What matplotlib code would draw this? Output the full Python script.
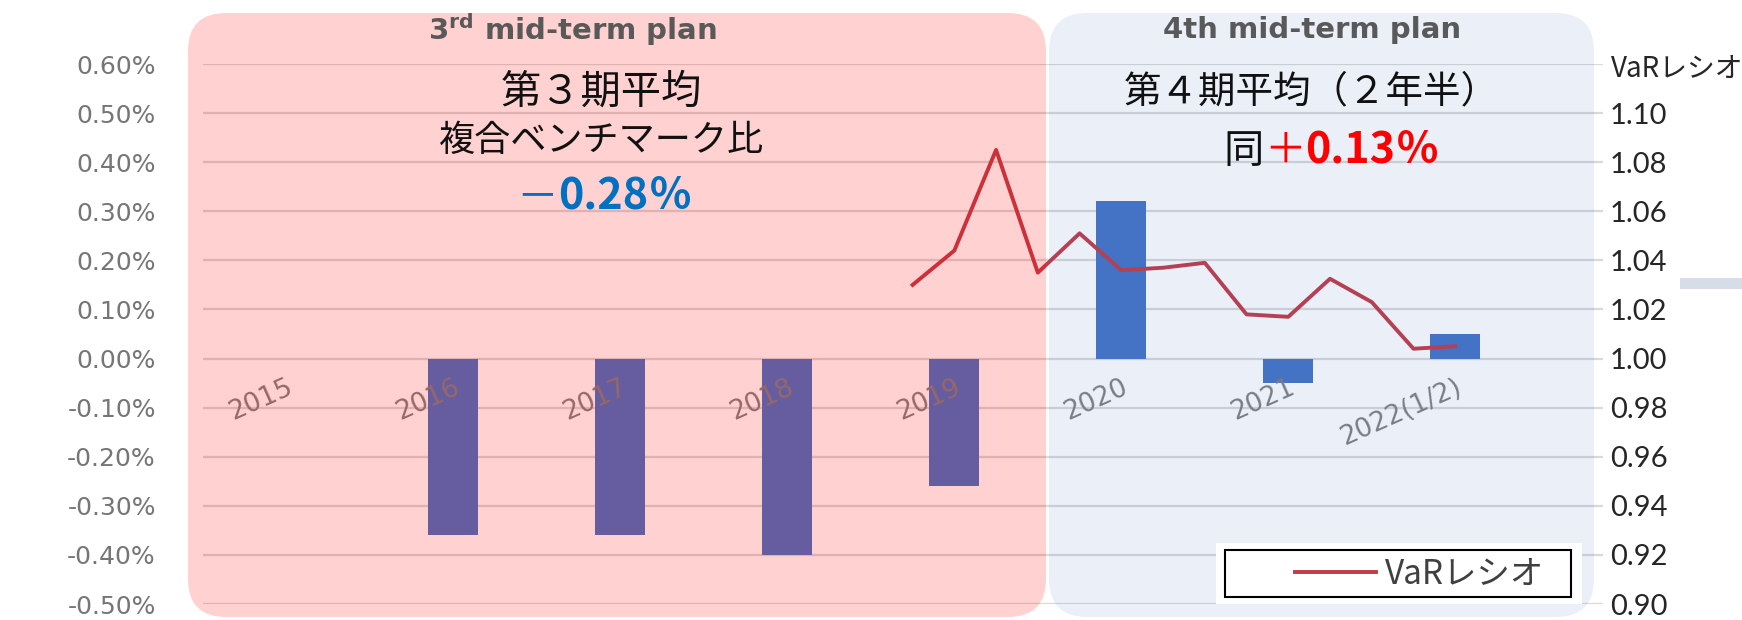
import numpy as np
import matplotlib
matplotlib.use('Agg')
import matplotlib.pyplot as plt
import matplotlib.transforms as mtransforms
from matplotlib.patches import FancyBboxPatch, Rectangle
from matplotlib.ticker import FuncFormatter

W, H = 1742, 620
JP = ['Noto Sans CJK JP', 'DejaVu Sans']

# Data: excess return vs. composite benchmark (%) and quarterly VaR ratio
years = ['2015', '2016', '2017', '2018', '2019', '2020', '2021', '2022(1/2)']
excess_return = [np.nan, -0.36, -0.36, -0.40, -0.26, 0.32, -0.05, 0.05]
var_quarters = ['2018Q4', '2019Q1', '2019Q2', '2019Q3', '2019Q4',
                '2020Q1', '2020Q2', '2020Q3', '2020Q4',
                '2021Q1', '2021Q2', '2021Q3', '2021Q4', '2022Q1']
var_ratio = [1.030, 1.044, 1.085, 1.035, 1.051,
             1.036, 1.037, 1.039, 1.018,
             1.017, 1.0325, 1.023, 1.004, 1.005]
left_ticks = [-0.5, -0.4, -0.3, -0.2, -0.1, 0.0, 0.1, 0.2, 0.3, 0.4, 0.5, 0.6]
right_ticks = [0.90, 0.92, 0.94, 0.96, 0.98, 1.00, 1.02, 1.04, 1.06, 1.08, 1.10]

plan_titles = ['3$^{\\mathbf{rd}}$ mid-term plan', '4th mid-term plan']
plan3_lines = ['第３期平均', '複合ベンチマーク比']
plan3_value = ['－', '0.28', '％']
plan4_lines = ['第４期平均（２年半）']
plan4_value = ['同', '＋', '0.13', '％']

BAR_BLUE = '#4472C4'
LINE_RED = '#C23B46'


def px(x, y):
    # reference pixel (top-left origin) -> figure fraction
    return x / W, 1 - y / H


def quarterPos(q):
    year, qn = q.split('Q')
    return int(year) - int(years[0]) + (int(qn) - 1) / 4


def richText(fig, x, y, pieces):
    # lay out differently styled pieces side by side, centred on x, on baseline y
    r = fig.canvas.get_renderer()
    texts = [fig.text(0, 0, s, ha='left', va='baseline', zorder=20, **kw) for s, kw in pieces]
    widths = [t.get_window_extent(r).width for t in texts]
    left = x - sum(widths) / 2
    for t, w in zip(texts, widths):
        t.set_position(px(left, y))
        left += w


plt.rcParams['font.family'] = ['DejaVu Sans']
fig = plt.figure(figsize=(W / 100, H / 100), dpi=100)
# gridlines from y=64 (0.60%) to y=604 (-0.50%)
ax = fig.add_axes([203 / W, 16 / H, 1400 / W, 540 / H])
ax2 = ax.twinx()

# bars
xs = np.arange(len(years))
vals = np.array(excess_return, dtype=float)
ok = ~np.isnan(vals)
ax.bar(xs[ok], vals[ok], width=0.30, color=BAR_BLUE, zorder=2)

ax.set_xlim(-0.5, 7.885)
ax.set_ylim(-0.5, 0.6)
ax.set_yticks(left_ticks)
ax.yaxis.set_major_formatter(FuncFormatter(lambda v, p: f'{v:.2f}%'))
ax.set_xticks([])
ax.grid(axis='y', color='#d9d9d9', linewidth=1.6)
ax.set_axisbelow(True)
ax.tick_params(axis='y', length=0, pad=34, labelsize=18, labelcolor='#767676')
for s in ax.spines.values():
    s.set_visible(False)

# category labels sit just below the zero line
lblTr = mtransforms.offset_copy(ax.transData, fig=fig, x=0, y=-16, units='dots')
for i, y in enumerate(years):
    ax.text(i, 0, y, rotation=24, rotation_mode='anchor', ha='right', va='top',
            fontsize=19, color='#7f7f7f', transform=lblTr, zorder=4)

# VaR ratio line
qx = [quarterPos(q) for q in var_quarters]
line, = ax2.plot(qx, var_ratio, color=LINE_RED, linewidth=2.8, label='VaRレシオ', zorder=3)
ax2.set_ylim(0.90, 1.12)
ax2.set_yticks(right_ticks)
ax2.yaxis.set_major_formatter(FuncFormatter(lambda v, p: f'{v:.2f}'))
ax2.tick_params(axis='y', length=0, pad=5, labelsize=21, labelcolor='#262626')
for lbl in ax2.get_yticklabels():
    lbl.set_fontfamily(['Lato', 'DejaVu Sans'])
for s in ax2.spines.values():
    s.set_visible(False)
fig.text(*px(1611, 69), 'VaRレシオ', ha='left', va='center', fontsize=20,
         color='#262626', family=JP)

# mid-term plan panels, laid over the chart
ident = mtransforms.IdentityTransform()
fig.add_artist(FancyBboxPatch((1049, 3), 545, 604, boxstyle='round,pad=0,rounding_size=38',
                              facecolor=BAR_BLUE, alpha=0.11, edgecolor='none',
                              transform=ident, zorder=5))
fig.add_artist(FancyBboxPatch((188, 3), 858, 604, boxstyle='round,pad=0,rounding_size=38',
                              facecolor='red', alpha=0.18, edgecolor='none',
                              transform=ident, zorder=6))
fig.add_artist(Rectangle((1680, H - 289), 62, 11, facecolor='#d6dde9', edgecolor='none',
                         transform=ident, zorder=6))

fig.text(*px(572, 30), plan_titles[0], ha='center', va='center', fontsize=21,
         fontweight='bold', color='#595959', zorder=20)
fig.text(*px(1312, 30), plan_titles[1], ha='center', va='center', fontsize=21,
         fontweight='bold', color='#595959', zorder=20)

# annotations
fig.text(*px(601, 92), plan3_lines[0], ha='center', va='center', fontsize=29,
         family=JP, color='#111111', zorder=20)
fig.text(*px(602, 141), plan3_lines[1], ha='center', va='center', fontsize=26,
         family=JP, color='#111111', zorder=20)
blue = '#0070C0'
richText(fig, 604, 209, [(plan3_value[0], dict(color=blue, fontsize=30, family=JP)),
                         (plan3_value[1], dict(color=blue, fontsize=31, family=JP, fontweight='bold')),
                         (plan3_value[2], dict(color=blue, fontsize=31, family=JP, fontweight='bold'))])
fig.text(*px(1311, 92), plan4_lines[0], ha='center', va='center', fontsize=27,
         family=JP, color='#111111', zorder=20)
richText(fig, 1331, 163, [(plan4_value[0], dict(color='#111111', fontsize=29, family=JP)),
                          (plan4_value[1], dict(color='red', fontsize=30, family=JP)),
                          (plan4_value[2], dict(color='red', fontsize=31, family=JP, fontweight='bold')),
                          (plan4_value[3], dict(color='red', fontsize=31, family=JP, fontweight='bold'))])

# legend box
fig.add_artist(Rectangle((1216, H - 604), 366, 61, facecolor='white', edgecolor='none',
                         transform=ident, zorder=18))
fig.add_artist(Rectangle((1225, H - 597), 346, 47, facecolor='white', edgecolor='black',
                         linewidth=1.5, transform=ident, zorder=19))
leg = fig.legend(handles=[line], loc='center left', bbox_to_anchor=px(1278, 574),
                 frameon=False, borderpad=0, handlelength=2.45, handletextpad=0.25,
                 prop={'family': JP, 'size': 24}, labelcolor='#404040')
leg.set_zorder(20)

fig.savefig('out.png', dpi=100)
